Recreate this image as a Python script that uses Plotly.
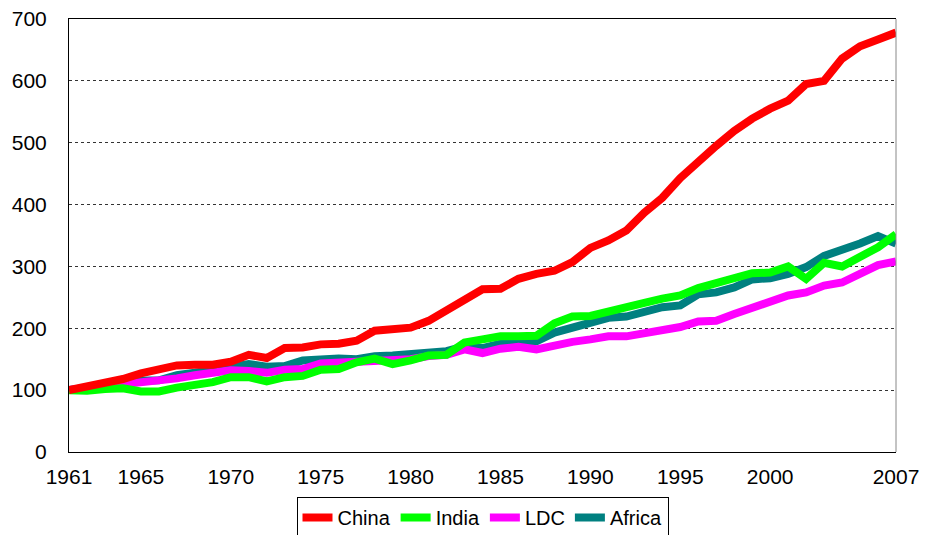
import plotly.graph_objects as go

years = list(range(1961, 2008))

china = [100, 105, 111, 118, 127, 133, 140, 141, 141, 146, 157, 152, 168, 169, 174, 175,
         180, 196, 200, 201, 212, 228, 245, 263, 264, 280, 288, 293, 307, 330, 342, 358,
         387, 411, 443, 470, 495, 519, 539, 555, 568, 595, 600, 636, 656, 667, 678]
india = [100, 99, 102, 103, 98, 98, 104, 108, 113, 121, 121, 114, 121, 123, 133, 134,
         145, 151, 142, 148, 156, 157, 177, 182, 187, 187, 188, 208, 219, 220, 226, 234,
         241, 248, 253, 265, 272, 280, 289, 290, 300, 280, 306, 300, 315, 331, 352]
ldc = [100, 103, 106, 110, 113, 113, 119, 124, 128, 132, 131, 128, 133, 134, 143, 144,
       145, 148, 148, 150, 155, 157, 166, 160, 167, 170, 166, 173, 178, 182, 187, 187,
       191, 196, 202, 211, 212, 223, 234, 242, 253, 258, 269, 274, 288, 302, 308]
africa = [100, 104, 108, 112, 115, 116, 124, 128, 133, 140, 142, 138, 139, 148, 151, 151,
          150, 155, 156, 158, 163, 163, 171, 168, 175, 178, 179, 193, 200, 208, 217, 219,
          228, 234, 237, 255, 258, 266, 279, 281, 288, 299, 317, 326, 337, 349, 337]

series_names = ["China", "India", "LDC", "Africa"]
series_values = [china, india, ldc, africa]
series_colors = ["#FF0000", "#00FF00", "#FF00FF", "#008080"]

x_tickvals = [1961, 1965, 1970, 1975, 1980, 1985, 1990, 1995, 2000, 2007]
y_tickvals = [0, 100, 200, 300, 400, 500, 600, 700]

fig = go.Figure()
# draw in reverse so China is on top; legend reversed back
for name, vals, col in reversed(list(zip(series_names, series_values, series_colors))):
    fig.add_trace(go.Scatter(x=years, y=vals, name=name, mode="lines",
                             line=dict(color=col, width=8)))

font_family = "Liberation Sans, Arial, sans-serif"

fig.update_layout(
    width=926, height=535,
    margin=dict(l=69, r=30, t=19, b=83),
    paper_bgcolor="white", plot_bgcolor="white",
    font=dict(family=font_family, size=21, color="black"),
    showlegend=True,
    legend=dict(orientation="h", x=0.5, xanchor="center",
                yref="container", y=0.071, yanchor="top",
                traceorder="reversed", bordercolor="black", borderwidth=1,
                font=dict(size=20), itemwidth=30, tracegroupgap=0),
    xaxis=dict(range=[1961, 2007], tickvals=x_tickvals, showgrid=False,
               showline=True, linecolor="black", linewidth=1, mirror=True,
               ticks="", zeroline=False, ticklabelstandoff=6, automargin=False),
    yaxis=dict(range=[0, 700], tickvals=y_tickvals, showgrid=True,
               gridcolor="#333333", gridwidth=1, griddash="3px,3px",
               showline=True, linecolor="black", linewidth=1,
               ticks="", zeroline=False, ticklabelstandoff=17, automargin=False),
)
fig.add_shape(type="line", xref="paper", yref="paper", x0=1, x1=1, y0=0, y1=1,
              line=dict(color="#888888", width=1))

fig.write_html("out.html",
               config={"displayModeBar": False},
               post_script="document.body.style.margin='0';document.body.style.overflow='hidden';")
